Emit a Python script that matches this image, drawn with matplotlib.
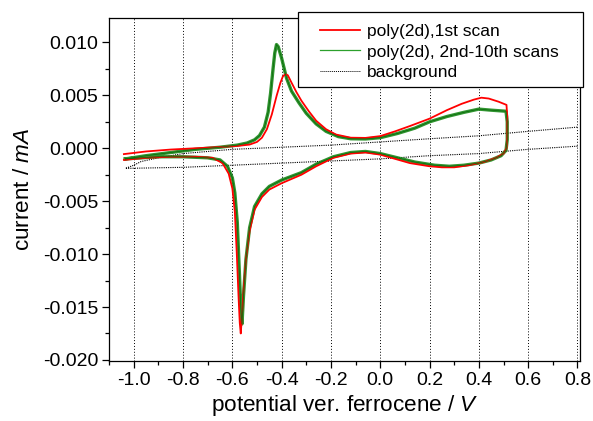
import matplotlib
matplotlib.use('Agg')
import matplotlib.pyplot as plt
from matplotlib.lines import Line2D
from matplotlib.patches import Rectangle
from matplotlib.ticker import MultipleLocator

plt.rcParams['font.family'] = ['Liberation Sans', 'DejaVu Sans']
plt.rcParams['mathtext.fontset'] = 'custom'
plt.rcParams['mathtext.it'] = 'Liberation Sans:italic'

# first scan, poly(2d): forward sweep, then reverse sweep
red_v = [-1.04, -0.95, -0.85, -0.75, -0.65, -0.58, -0.53, -0.50, -0.48, -0.46,
         -0.44, -0.42, -0.405, -0.395, -0.385, -0.375, -0.36, -0.34, -0.32, -0.29,
         -0.26, -0.22, -0.18, -0.12, -0.06, 0.0, 0.06, 0.12, 0.20, 0.27,
         0.33, 0.38, 0.41, 0.44, 0.48, 0.512,
         0.515, 0.515, 0.512, 0.50, 0.47, 0.42, 0.36, 0.30, 0.25, 0.20,
         0.12, 0.06, 0.0, -0.06, -0.12, -0.19, -0.26, -0.32, -0.40, -0.45,
         -0.48, -0.51, -0.53, -0.545, -0.555, -0.562, -0.566, -0.570, -0.575, -0.582,
         -0.590, -0.600, -0.615, -0.64, -0.68, -0.75, -0.85, -0.95, -1.04]
red_i = [-0.00055, -0.0003, -0.00012, 0.0, 0.00012, 0.00022, 0.00035, 0.0006, 0.0010, 0.0018,
         0.0032, 0.0050, 0.0062, 0.0068, 0.0070, 0.0069, 0.0062, 0.0053, 0.0045, 0.0035,
         0.0026, 0.0018, 0.0013, 0.0010, 0.00098, 0.00115, 0.0016, 0.0021, 0.0028, 0.0036,
         0.0042, 0.0046, 0.00478, 0.0047, 0.0044, 0.0041,
         0.0030, 0.0010, 0.0, -0.0005, -0.0009, -0.0013, -0.0016, -0.0018, -0.0018, -0.0017,
         -0.0014, -0.0010, -0.0006, -0.0004, -0.0005, -0.0009, -0.0017, -0.0025, -0.0033, -0.0039,
         -0.0046, -0.0058, -0.0078, -0.0105, -0.0135, -0.0162, -0.0175, -0.0165, -0.0140, -0.0100,
         -0.0060, -0.0038, -0.0024, -0.0014, -0.0009, -0.0008, -0.0008, -0.0009, -0.0011]

# 2nd-10th scans (overlapping band)
green_v = [-1.034, -0.95, -0.85, -0.75, -0.65, -0.58, -0.54, -0.51, -0.49, -0.47,
           -0.455, -0.445, -0.435, -0.428, -0.421, -0.414, -0.40, -0.38, -0.36, -0.33,
           -0.30, -0.26, -0.22, -0.17, -0.12, -0.06, 0.0, 0.07, 0.14, 0.20,
           0.27, 0.34, 0.40, 0.45, 0.51,
           0.515, 0.515, 0.51, 0.49, 0.45, 0.40, 0.34, 0.28, 0.22, 0.14,
           0.07, 0.0, -0.06, -0.12, -0.19, -0.26, -0.32, -0.40, -0.45, -0.48,
           -0.51, -0.53, -0.545, -0.555, -0.561, -0.566, -0.572, -0.580, -0.590, -0.60,
           -0.62, -0.65, -0.70, -0.80, -0.90, -1.034]
green_i = [-0.0010, -0.0007, -0.0004, -0.0001, 0.0001, 0.0003, 0.0005, 0.0008, 0.0012, 0.0020,
           0.0034, 0.0052, 0.0075, 0.0090, 0.0098, 0.0096, 0.0085, 0.0066, 0.0054, 0.0043,
           0.0033, 0.0023, 0.0016, 0.0011, 0.0009, 0.00088, 0.0010, 0.0014, 0.0019, 0.0025,
           0.0030, 0.0034, 0.0037, 0.0036, 0.0035,
           0.0025, 0.0008, -0.0002, -0.0007, -0.0011, -0.0014, -0.0016, -0.0017, -0.0016, -0.0013,
           -0.0009, -0.0005, -0.0003, -0.0004, -0.0008, -0.0015, -0.0023, -0.0030, -0.0036, -0.0043,
           -0.0055, -0.0075, -0.0105, -0.0140, -0.0166, -0.0150, -0.0115, -0.0070, -0.0042, -0.0028,
           -0.0017, -0.0011, -0.0009, -0.0008, -0.0008, -0.0010]

# background scan
bg_v = [0.8, 0.6, 0.4, 0.2, 0.0, -0.2, -0.4, -0.6, -0.8, -1.034,
        -1.0, -0.97, -0.9, -0.8, -0.6, -0.4, -0.2, 0.0, 0.2, 0.4, 0.6, 0.8]
bg_i = [0.0002, -0.0001, -0.0005, -0.0007, -0.0010, -0.0012, -0.0014, -0.0016, -0.0018, -0.0019,
        -0.0016, -0.00125, -0.0009, -0.0005, -0.0001, 0.0001, 0.0003, 0.0006, 0.0009, 0.00118, 0.0016, 0.0020]

xticks = [-1.0, -0.8, -0.6, -0.4, -0.2, 0.0, 0.2, 0.4, 0.6, 0.8]
yticks = [-0.020, -0.015, -0.010, -0.005, 0.000, 0.005, 0.010]

fig = plt.figure(figsize=(5.93, 4.21), dpi=100)
ax = fig.add_axes([0.184, 0.1425, 0.794, 0.8145])

for x in xticks:
    ax.axvline(x, color='black', linestyle=(0, (1, 2)), linewidth=0.7, zorder=0)

ax.plot(bg_v, bg_i, color='black', linestyle=(0, (1, 1)), linewidth=0.8, zorder=1)
ax.plot(green_v, green_i, color='#1a8a1a', linewidth=2.4, alpha=0.9, zorder=2)
ax.plot(red_v, red_i, color='#ff0000', linewidth=1.3, zorder=3)
ax.plot(green_v, green_i, color='#0e6e0e', linewidth=0.6, zorder=4)

ax.set_xlim(-1.1, 0.81)
ax.set_ylim(-0.0201, 0.0123)
ax.set_xticks(xticks)
ax.set_yticks(yticks)
ax.set_xticklabels(['%.1f' % v for v in xticks])
ax.set_yticklabels(['%.3f' % v for v in yticks])
ax.xaxis.set_minor_locator(MultipleLocator(0.1))
ax.yaxis.set_minor_locator(MultipleLocator(0.0025))
ax.tick_params(which='major', direction='out', length=5, width=0.9, labelsize=14, color='black', pad=3)
ax.tick_params(which='minor', direction='out', length=3, width=0.9)
ax.tick_params(top=False, right=False)
for spine in ax.spines.values():
    spine.set_linewidth(0.9)
    spine.set_color('black')

ax.set_xlabel('potential ver. ferrocene / $\\mathit{V}$', fontsize=16.2, labelpad=3)
ax.set_ylabel('current / $\\mathit{mA}$', fontsize=16.2, labelpad=6)

# legend: frame drawn as a figure rectangle, entries placed inside
fig.patches.append(Rectangle((298 / 593, 1 - 87 / 421), 285 / 593, 75 / 421,
                             transform=fig.transFigure, facecolor='white',
                             edgecolor='black', linewidth=0.9, zorder=5))
handles = [Line2D([], [], color='#ff0000', linewidth=1.3),
           Line2D([], [], color='#2ca02c', linewidth=0.9),
           Line2D([], [], color='black', linestyle=(0, (1, 1)), linewidth=0.7)]
labels = ['poly(2d),1st scan', 'poly(2d), 2nd-10th scans', 'background']
leg = fig.legend(handles, labels, loc='upper left', bbox_to_anchor=(320 / 593, 1 - 24 / 421),
                 fontsize=12.5, frameon=False, handlelength=2.3, labelspacing=0.3,
                 borderpad=0, handletextpad=0.4, borderaxespad=0)
leg.set_zorder(6)

fig.savefig('out.png', dpi=100)
